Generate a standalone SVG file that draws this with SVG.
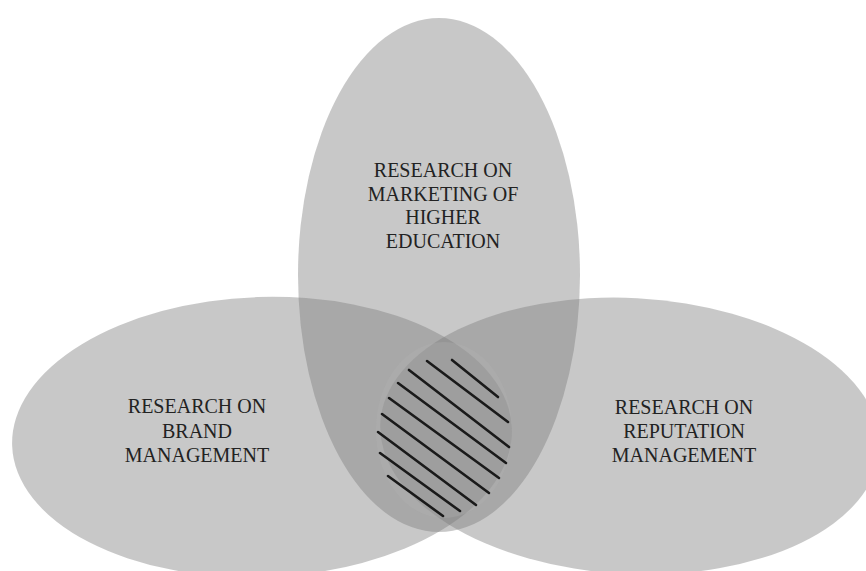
<svg xmlns="http://www.w3.org/2000/svg" width="866" height="571" viewBox="0 0 866 571">
<style>
.set{fill:#7c7c7c;fill-opacity:0.42;}
.lbl{font-family:"Liberation Serif","Times New Roman",serif;font-size:20px;fill:#222;text-anchor:middle;}
.hatch line{stroke:#1a1a1a;stroke-width:2.6;stroke-linecap:round;}
</style>
<rect width="866" height="571" fill="#ffffff"/>
<g id="marketing">
<ellipse class="set" cx="439" cy="275" rx="141" ry="257"/>
</g>
<g id="brand">
<ellipse class="set" cx="262" cy="437" rx="250" ry="140" transform="rotate(-2 262 437)"/>
</g>
<g id="reputation">
<ellipse class="set" cx="630" cy="436" rx="250" ry="138" transform="rotate(3 630 436)"/>
</g>
<g id="intersection" class="hatch">
<ellipse cx="444" cy="430" rx="68" ry="88" fill="#b4b4b4" fill-opacity="0.3" stroke="none"/>
<line x1="452" y1="360" x2="498" y2="397"/>
<line x1="427" y1="361" x2="508" y2="422"/>
<line x1="409" y1="370" x2="509" y2="447"/>
<line x1="398" y1="383" x2="506" y2="463"/>
<line x1="389" y1="398" x2="499" y2="478"/>
<line x1="382" y1="414" x2="489" y2="493"/>
<line x1="378" y1="432" x2="476" y2="505"/>
<line x1="380" y1="453" x2="460" y2="511"/>
<line x1="388" y1="476" x2="443" y2="516"/>
</g>
<g id="labels">
<text class="lbl" x="443" y="177">RESEARCH ON</text>
<text class="lbl" x="443" y="201">MARKETING OF</text>
<text class="lbl" x="443" y="224">HIGHER</text>
<text class="lbl" x="443" y="248">EDUCATION</text>
<text class="lbl" x="197" y="413">RESEARCH ON</text>
<text class="lbl" x="197" y="438">BRAND</text>
<text class="lbl" x="197" y="462">MANAGEMENT</text>
<text class="lbl" x="684" y="414">RESEARCH ON</text>
<text class="lbl" x="684" y="438">REPUTATION</text>
<text class="lbl" x="684" y="462">MANAGEMENT</text>
</g>
</svg>
